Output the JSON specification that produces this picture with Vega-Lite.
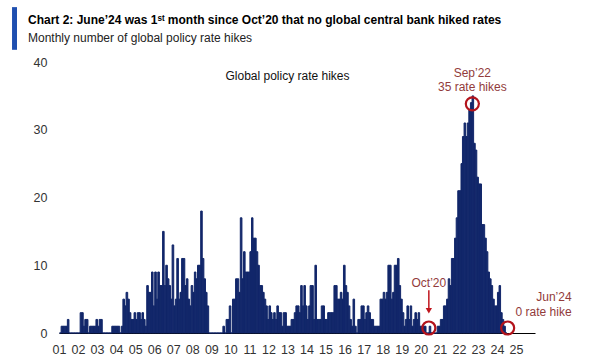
{
  "$schema": "https://vega.github.io/schema/vega-lite/v6.json",
  "width": 476,
  "height": 271,
  "autosize": {"type": "none"},
  "padding": {"left": 59, "top": 62, "right": 65, "bottom": 27},
  "background": "white",
  "config": {"view": {"stroke": null}, "font": "Liberation Sans"},
  "title": {
    "text": "Chart 2: June’24 was 1ˢᵗ month since Oct’20 that no global central bank hiked rates",
    "subtitle": "Monthly number of global policy rate hikes",
    "anchor": "start",
    "frame": "group",
    "dx": -31,
    "offset": -40,
    "font": "Liberation Sans",
    "fontSize": 12,
    "fontWeight": "bold",
    "color": "#000000",
    "subtitleFont": "Liberation Sans",
    "subtitleFontSize": 12,
    "subtitleColor": "#222222",
    "subtitlePadding": 6
  },
  "datasets": {
    "hikes": [
      {"month":"2001-01","hikes":0},{"month":"2001-02","hikes":1},{"month":"2001-03","hikes":1},{"month":"2001-04","hikes":1},{"month":"2001-05","hikes":1},{"month":"2001-06","hikes":2},{"month":"2001-07","hikes":0},{"month":"2001-08","hikes":0},{"month":"2001-09","hikes":0},{"month":"2001-10","hikes":0},{"month":"2001-11","hikes":0},{"month":"2001-12","hikes":0},
      {"month":"2002-01","hikes":0},{"month":"2002-02","hikes":3},{"month":"2002-03","hikes":3},{"month":"2002-04","hikes":1},{"month":"2002-05","hikes":2},{"month":"2002-06","hikes":2},{"month":"2002-07","hikes":0},{"month":"2002-08","hikes":1},{"month":"2002-09","hikes":1},{"month":"2002-10","hikes":1},{"month":"2002-11","hikes":1},{"month":"2002-12","hikes":2},
      {"month":"2003-01","hikes":1},{"month":"2003-02","hikes":2},{"month":"2003-03","hikes":2},{"month":"2003-04","hikes":0},{"month":"2003-05","hikes":0},{"month":"2003-06","hikes":0},{"month":"2003-07","hikes":0},{"month":"2003-08","hikes":0},{"month":"2003-09","hikes":0},{"month":"2003-10","hikes":1},{"month":"2003-11","hikes":1},{"month":"2003-12","hikes":1},
      {"month":"2004-01","hikes":1},{"month":"2004-02","hikes":1},{"month":"2004-03","hikes":0},{"month":"2004-04","hikes":1},{"month":"2004-05","hikes":5},{"month":"2004-06","hikes":4},{"month":"2004-07","hikes":6},{"month":"2004-08","hikes":5},{"month":"2004-09","hikes":3},{"month":"2004-10","hikes":2},{"month":"2004-11","hikes":2},{"month":"2004-12","hikes":3},
      {"month":"2005-01","hikes":2},{"month":"2005-02","hikes":3},{"month":"2005-03","hikes":3},{"month":"2005-04","hikes":2},{"month":"2005-05","hikes":3},{"month":"2005-06","hikes":2},{"month":"2005-07","hikes":1},{"month":"2005-08","hikes":7},{"month":"2005-09","hikes":6},{"month":"2005-10","hikes":6},{"month":"2005-11","hikes":9},{"month":"2005-12","hikes":4},
      {"month":"2006-01","hikes":9},{"month":"2006-02","hikes":5},{"month":"2006-03","hikes":9},{"month":"2006-04","hikes":7},{"month":"2006-05","hikes":7},{"month":"2006-06","hikes":15},{"month":"2006-07","hikes":7},{"month":"2006-08","hikes":10},{"month":"2006-09","hikes":8},{"month":"2006-10","hikes":7},{"month":"2006-11","hikes":5},{"month":"2006-12","hikes":13},
      {"month":"2007-01","hikes":4},{"month":"2007-02","hikes":5},{"month":"2007-03","hikes":11},{"month":"2007-04","hikes":5},{"month":"2007-05","hikes":6},{"month":"2007-06","hikes":11},{"month":"2007-07","hikes":11},{"month":"2007-08","hikes":7},{"month":"2007-09","hikes":8},{"month":"2007-10","hikes":5},{"month":"2007-11","hikes":4},{"month":"2007-12","hikes":7},
      {"month":"2008-01","hikes":6},{"month":"2008-02","hikes":9},{"month":"2008-03","hikes":8},{"month":"2008-04","hikes":10},{"month":"2008-05","hikes":10},{"month":"2008-06","hikes":18},{"month":"2008-07","hikes":11},{"month":"2008-08","hikes":8},{"month":"2008-09","hikes":6},{"month":"2008-10","hikes":4},{"month":"2008-11","hikes":0},{"month":"2008-12","hikes":0},
      {"month":"2009-01","hikes":0},{"month":"2009-02","hikes":0},{"month":"2009-03","hikes":0},{"month":"2009-04","hikes":0},{"month":"2009-05","hikes":0},{"month":"2009-06","hikes":0},{"month":"2009-07","hikes":0},{"month":"2009-08","hikes":1},{"month":"2009-09","hikes":0},{"month":"2009-10","hikes":2},{"month":"2009-11","hikes":2},{"month":"2009-12","hikes":4},
      {"month":"2010-01","hikes":0},{"month":"2010-02","hikes":5},{"month":"2010-03","hikes":5},{"month":"2010-04","hikes":8},{"month":"2010-05","hikes":8},{"month":"2010-06","hikes":6},{"month":"2010-07","hikes":17},{"month":"2010-08","hikes":8},{"month":"2010-09","hikes":12},{"month":"2010-10","hikes":9},{"month":"2010-11","hikes":9},{"month":"2010-12","hikes":9},
      {"month":"2011-01","hikes":12},{"month":"2011-02","hikes":17},{"month":"2011-03","hikes":14},{"month":"2011-04","hikes":14},{"month":"2011-05","hikes":12},{"month":"2011-06","hikes":10},{"month":"2011-07","hikes":7},{"month":"2011-08","hikes":7},{"month":"2011-09","hikes":6},{"month":"2011-10","hikes":5},{"month":"2011-11","hikes":4},{"month":"2011-12","hikes":2},
      {"month":"2012-01","hikes":4},{"month":"2012-02","hikes":3},{"month":"2012-03","hikes":2},{"month":"2012-04","hikes":3},{"month":"2012-05","hikes":2},{"month":"2012-06","hikes":4},{"month":"2012-07","hikes":3},{"month":"2012-08","hikes":3},{"month":"2012-09","hikes":1},{"month":"2012-10","hikes":3},{"month":"2012-11","hikes":3},{"month":"2012-12","hikes":1},
      {"month":"2013-01","hikes":1},{"month":"2013-02","hikes":1},{"month":"2013-03","hikes":2},{"month":"2013-04","hikes":2},{"month":"2013-05","hikes":3},{"month":"2013-06","hikes":4},{"month":"2013-07","hikes":4},{"month":"2013-08","hikes":3},{"month":"2013-09","hikes":7},{"month":"2013-10","hikes":4},{"month":"2013-11","hikes":7},{"month":"2013-12","hikes":4},
      {"month":"2014-01","hikes":2},{"month":"2014-02","hikes":4},{"month":"2014-03","hikes":7},{"month":"2014-04","hikes":7},{"month":"2014-05","hikes":2},{"month":"2014-06","hikes":10},{"month":"2014-07","hikes":2},{"month":"2014-08","hikes":2},{"month":"2014-09","hikes":2},{"month":"2014-10","hikes":4},{"month":"2014-11","hikes":4},{"month":"2014-12","hikes":2},
      {"month":"2015-01","hikes":2},{"month":"2015-02","hikes":3},{"month":"2015-03","hikes":3},{"month":"2015-04","hikes":3},{"month":"2015-05","hikes":3},{"month":"2015-06","hikes":7},{"month":"2015-07","hikes":7},{"month":"2015-08","hikes":5},{"month":"2015-09","hikes":5},{"month":"2015-10","hikes":6},{"month":"2015-11","hikes":5},{"month":"2015-12","hikes":10},
      {"month":"2016-01","hikes":7},{"month":"2016-02","hikes":6},{"month":"2016-03","hikes":4},{"month":"2016-04","hikes":2},{"month":"2016-05","hikes":1},{"month":"2016-06","hikes":5},{"month":"2016-07","hikes":1},{"month":"2016-08","hikes":0},{"month":"2016-09","hikes":2},{"month":"2016-10","hikes":2},{"month":"2016-11","hikes":4},{"month":"2016-12","hikes":4},
      {"month":"2017-01","hikes":2},{"month":"2017-02","hikes":3},{"month":"2017-03","hikes":4},{"month":"2017-04","hikes":3},{"month":"2017-05","hikes":2},{"month":"2017-06","hikes":2},{"month":"2017-07","hikes":1},{"month":"2017-08","hikes":1},{"month":"2017-09","hikes":1},{"month":"2017-10","hikes":1},{"month":"2017-11","hikes":5},{"month":"2017-12","hikes":5},
      {"month":"2018-01","hikes":6},{"month":"2018-02","hikes":5},{"month":"2018-03","hikes":6},{"month":"2018-04","hikes":10},{"month":"2018-05","hikes":10},{"month":"2018-06","hikes":5},{"month":"2018-07","hikes":6},{"month":"2018-08","hikes":10},{"month":"2018-09","hikes":10},{"month":"2018-10","hikes":11},{"month":"2018-11","hikes":7},{"month":"2018-12","hikes":5},
      {"month":"2019-01","hikes":3},{"month":"2019-02","hikes":1},{"month":"2019-03","hikes":2},{"month":"2019-04","hikes":4},{"month":"2019-05","hikes":2},{"month":"2019-06","hikes":4},{"month":"2019-07","hikes":1},{"month":"2019-08","hikes":2},{"month":"2019-09","hikes":3},{"month":"2019-10","hikes":2},{"month":"2019-11","hikes":3},{"month":"2019-12","hikes":1},
      {"month":"2020-01","hikes":1},{"month":"2020-02","hikes":1},{"month":"2020-03","hikes":1},{"month":"2020-04","hikes":0},{"month":"2020-05","hikes":0},{"month":"2020-06","hikes":1},{"month":"2020-07","hikes":0},{"month":"2020-08","hikes":0},{"month":"2020-09","hikes":0},{"month":"2020-10","hikes":0},{"month":"2020-11","hikes":1},{"month":"2020-12","hikes":1},
      {"month":"2021-01","hikes":2},{"month":"2021-02","hikes":2},{"month":"2021-03","hikes":4},{"month":"2021-04","hikes":4},{"month":"2021-05","hikes":5},{"month":"2021-06","hikes":8},{"month":"2021-07","hikes":7},{"month":"2021-08","hikes":11},{"month":"2021-09","hikes":11},{"month":"2021-10","hikes":14},{"month":"2021-11","hikes":17},{"month":"2021-12","hikes":21},
      {"month":"2022-01","hikes":21},{"month":"2022-02","hikes":25},{"month":"2022-03","hikes":29},{"month":"2022-04","hikes":31},{"month":"2022-05","hikes":29},{"month":"2022-06","hikes":31},{"month":"2022-07","hikes":33},{"month":"2022-08","hikes":34},{"month":"2022-09","hikes":35},{"month":"2022-10","hikes":28},{"month":"2022-11","hikes":27},{"month":"2022-12","hikes":23},
      {"month":"2023-01","hikes":22},{"month":"2023-02","hikes":22},{"month":"2023-03","hikes":16},{"month":"2023-04","hikes":16},{"month":"2023-05","hikes":14},{"month":"2023-06","hikes":12},{"month":"2023-07","hikes":9},{"month":"2023-08","hikes":8},{"month":"2023-09","hikes":7},{"month":"2023-10","hikes":5},{"month":"2023-11","hikes":4},{"month":"2023-12","hikes":4},
      {"month":"2024-01","hikes":6},{"month":"2024-02","hikes":7},{"month":"2024-03","hikes":3},{"month":"2024-04","hikes":2},{"month":"2024-05","hikes":1},{"month":"2024-06","hikes":0}
    ]
  },
  "layer": [
    {
      "data": {"name": "hikes"},
      "mark": {"type": "bar", "color": "#12276a", "binSpacing": 0, "stroke": "#12276a", "strokeWidth": 1},
      "encoding": {
        "x": {
          "field": "month", "timeUnit": "utcyearmonth", "type": "temporal",
          "scale": {"type": "utc", "domain": [{"year": 2001, "month": 1, "date": 1, "utc": true}, {"year": 2025, "month": 12, "date": 31, "utc": true}]},
          "axis": {
            "title": null, "format": "%y", "tickCount": {"interval": "year", "step": 1},
            "grid": false, "ticks": false, "tickSize": 0, "domainColor": "#000000", "domainWidth": 1.2,
            "labelFont": "Liberation Sans", "labelFontSize": 12.5, "labelColor": "#333333",
            "labelPadding": 10, "labelFlush": false, "labelOverlap": false
          }
        },
        "y": {
          "field": "hikes", "type": "quantitative",
          "scale": {"domain": [0, 40], "nice": false},
          "axis": {
            "title": null, "values": [0, 5, 10, 15, 20, 25, 30, 35, 40], "grid": false, "domain": false,
            "ticks": false, "tickSize": 0, "labelPadding": 12,
            "labelFont": "Liberation Sans", "labelFontSize": 12.5, "labelColor": "#333333"
          }
        }
      }
    },
    {
      "data": {"values": [{"month": "1998-09-01", "top": 48.1, "bottom": 41.8}]},
      "mark": {"type": "rule", "color": "#1f4fb0", "strokeWidth": 5},
      "encoding": {
        "x": {"field": "month", "type": "temporal"},
        "y": {"field": "top", "type": "quantitative"},
        "y2": {"field": "bottom"}
      }
    },
    {
      "data": {"values": [{"month": "2013-01-01", "hikes": 38, "label": "Global policy rate hikes"}]},
      "mark": {"type": "text", "font": "Liberation Sans", "fontSize": 12, "color": "#111111", "baseline": "middle", "align": "center"},
      "encoding": {
        "x": {"field": "month", "type": "temporal"},
        "y": {"field": "hikes", "type": "quantitative"},
        "text": {"field": "label"}
      }
    },
    {
      "data": {"values": [{"month": "2022-09-16", "hikes": 35, "label": "Sep’22\n35 rate hikes"}]},
      "mark": {"type": "text", "font": "Liberation Sans", "fontSize": 12, "color": "#923b3b", "baseline": "bottom", "align": "center", "lineBreak": "\n", "lineHeight": 14.5, "dy": -16},
      "encoding": {
        "x": {"field": "month", "type": "temporal"},
        "y": {"field": "hikes", "type": "quantitative"},
        "text": {"field": "label"}
      }
    },
    {
      "data": {"values": [{"month": "2020-10-16", "hikes": 0, "label": "Oct’20"}]},
      "mark": {"type": "text", "font": "Liberation Sans", "fontSize": 12, "color": "#923b3b", "baseline": "middle", "align": "center", "dy": -50, "dx": -7},
      "encoding": {
        "x": {"field": "month", "type": "temporal"},
        "y": {"field": "hikes", "type": "quantitative"},
        "text": {"field": "label"}
      }
    },
    {
      "data": {"values": [{"month": "2024-06-16", "hikes": 0, "label": "Jun’24\n0 rate hike"}]},
      "mark": {"type": "text", "font": "Liberation Sans", "fontSize": 12, "color": "#923b3b", "baseline": "bottom", "align": "right", "lineBreak": "\n", "lineHeight": 14.5, "dy": -29, "dx": 66},
      "encoding": {
        "x": {"field": "month", "type": "temporal"},
        "y": {"field": "hikes", "type": "quantitative"},
        "text": {"field": "label"}
      }
    },
    {
      "data": {"values": [{"month": "2020-10-16", "top": 6.3, "bottom": 3.6}]},
      "mark": {"type": "rule", "color": "#c0161e", "strokeWidth": 1.5, "xOffset": -7},
      "encoding": {
        "x": {"field": "month", "type": "temporal"},
        "y": {"field": "top", "type": "quantitative"},
        "y2": {"field": "bottom"}
      }
    },
    {
      "data": {"values": [{"month": "2020-10-16", "tip": 3.3}]},
      "mark": {"type": "point", "shape": "triangle-down", "filled": true, "color": "#c0161e", "size": 40, "opacity": 1, "xOffset": -7},
      "encoding": {
        "x": {"field": "month", "type": "temporal"},
        "y": {"field": "tip", "type": "quantitative"}
      }
    },
    {
      "data": {"values": [{"month": "2022-09-16", "hikes": 35}]},
      "mark": {"type": "point", "shape": "circle", "filled": false, "stroke": "#b3141c", "strokeWidth": 2.2, "size": 170, "opacity": 1, "yOffset": 8},
      "encoding": {
        "x": {"field": "month", "type": "temporal"},
        "y": {"field": "hikes", "type": "quantitative"}
      }
    },
    {
      "data": {"values": [{"month": "2020-10-16", "hikes": 0}]},
      "mark": {"type": "point", "shape": "circle", "filled": false, "stroke": "#b3141c", "strokeWidth": 2.2, "size": 170, "opacity": 1, "yOffset": -5, "xOffset": -7},
      "encoding": {
        "x": {"field": "month", "type": "temporal"},
        "y": {"field": "hikes", "type": "quantitative"}
      }
    },
    {
      "data": {"values": [{"month": "2024-06-16", "hikes": 0}]},
      "mark": {"type": "point", "shape": "circle", "filled": false, "stroke": "#b3141c", "strokeWidth": 2.2, "size": 170, "opacity": 1, "yOffset": -5, "xOffset": 2},
      "encoding": {
        "x": {"field": "month", "type": "temporal"},
        "y": {"field": "hikes", "type": "quantitative"}
      }
    }
  ]
}
